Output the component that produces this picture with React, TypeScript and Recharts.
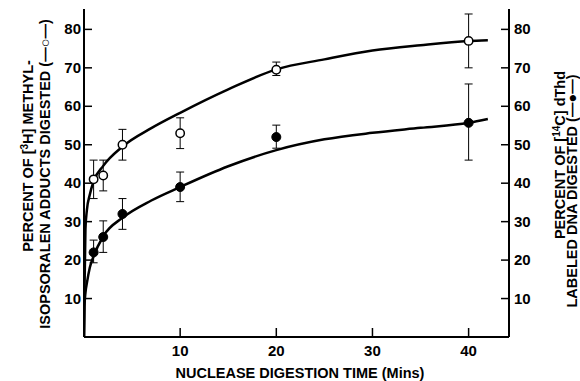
import { ComposedChart, Line, Scatter, XAxis, YAxis, ErrorBar } from 'recharts';

// measured points (open = 3H adducts, filled = 14C DNA)
const times = [1, 2, 4, 10, 20, 40];
const adductPct = [41, 42, 50, 53, 69.5, 77];
const adductErr = [[5, 5], [4, 4], [4, 4], [4, 4], [1.5, 2], [7, 7]];
const dnaPct = [22, 26, 32, 39, 52, 55.7];
const dnaErr = [[2.7, 3.2], [4, 4.2], [4, 4], [3.8, 3.9], [2.9, 3.1], [9.7, 10.1]];

// fitted curves
const fitTimes = [0, 0.05, 0.15, 0.3, 0.6, 1, 2, 4, 7, 10, 15, 20, 25, 30, 35, 40, 42];
const adductFit = [0, 12, 28, 33, 37, 40.5, 44.5, 49.5, 54.3, 58.3, 64.4, 69.6, 72.2, 74.5, 75.9, 77, 77.2];
const dnaFit = [0, 8, 11.5, 14, 18, 21, 26.2, 31, 35.5, 39, 44.4, 48.6, 51.4, 53.1, 54.4, 55.7, 56.7];

const xTicks = [10, 20, 30, 40];
const yTicks = [10, 20, 30, 40, 50, 60, 70, 80];

const adductPts = times.map((t, i) => ({ t, v: adductPct[i], e: adductErr[i] }));
const dnaPts = times.map((t, i) => ({ t, v: dnaPct[i], e: dnaErr[i] }));
const adductCurve = fitTimes.map((t, i) => ({ t, v: adductFit[i] }));
const dnaCurve = fitTimes.map((t, i) => ({ t, v: dnaFit[i] }));

const FONT = '"Liberation Sans", Arial, sans-serif';

const LeftTick = ({ x, y, payload }: any) => (
  <g>
    <line x1={x} x2={x + 8} y1={y} y2={y} stroke="#000" strokeWidth={1.5} />
    <text x={x - 3} y={y + 5} textAnchor="end" fontFamily={FONT} fontWeight="bold" fontSize={15} fill="#000">
      {payload.value}
    </text>
  </g>
);

const RightTick = ({ x, y, payload }: any) => (
  <g>
    <line x1={x - 8} x2={x} y1={y} y2={y} stroke="#000" strokeWidth={1.5} />
    <text x={x + 5} y={y + 5} textAnchor="start" fontFamily={FONT} fontWeight="bold" fontSize={15} fill="#000">
      {payload.value}
    </text>
  </g>
);

const BottomTick = ({ x, y, payload }: any) => (
  <g>
    <line x1={x} x2={x} y1={y - 9} y2={y} stroke="#000" strokeWidth={1.5} />
    <text x={x} y={y + 19} textAnchor="middle" fontFamily={FONT} fontWeight="bold" fontSize={15} fill="#000">
      {payload.value}
    </text>
  </g>
);

const OpenDot = ({ cx, cy }: any) => <circle cx={cx} cy={cy} r={4.2} fill="#fff" stroke="#000" strokeWidth={1.5} />;
const FilledDot = ({ cx, cy }: any) => <circle cx={cx} cy={cy} r={4.5} fill="#000" stroke="#000" strokeWidth={1} />;

const titleStyle = { fontFamily: FONT, fontWeight: 'bold' as const, fontSize: 14.5, fill: '#000' };

export default function App() {
  return (
    <div style={{ position: 'absolute', left: 0, top: 0, width: 580, height: 381, background: '#fff' }}>
      <ComposedChart width={580} height={381} margin={{ top: 9, right: 0, bottom: 0, left: 0 }}>
        <XAxis
          dataKey="t"
          type="number"
          domain={[0, 44.2]}
          ticks={xTicks}
          height={44}
          tickSize={0}
          tickMargin={0}
          tickLine={false}
          tick={<BottomTick />}
          axisLine={{ stroke: '#000', strokeWidth: 2 }}
          allowDataOverflow
        />
        <YAxis
          yAxisId="l"
          orientation="left"
          type="number"
          domain={[0, 85.3]}
          ticks={yTicks}
          width={84}
          tickSize={0}
          tickMargin={0}
          tickLine={false}
          tick={<LeftTick />}
          axisLine={{ stroke: '#000', strokeWidth: 2 }}
          allowDataOverflow
        />
        <YAxis
          yAxisId="r"
          orientation="right"
          type="number"
          domain={[0, 85.3]}
          ticks={yTicks}
          width={71}
          tickSize={0}
          tickMargin={0}
          tickLine={false}
          tick={<RightTick />}
          axisLine={{ stroke: '#000', strokeWidth: 2 }}
          allowDataOverflow
        />
        <Line yAxisId="l" data={adductCurve} dataKey="v" type="monotone" stroke="#000" strokeWidth={2.5} dot={false} isAnimationActive={false} />
        <Line yAxisId="r" data={dnaCurve} dataKey="v" type="monotone" stroke="#000" strokeWidth={2.5} dot={false} isAnimationActive={false} />
        <Scatter yAxisId="l" data={adductPts} dataKey="v" shape={<OpenDot />} isAnimationActive={false}>
          <ErrorBar dataKey="e" direction="y" width={4} stroke="#000" strokeWidth={1} isAnimationActive={false} />
        </Scatter>
        <Scatter yAxisId="r" data={dnaPts} dataKey="v" shape={<FilledDot />} isAnimationActive={false}>
          <ErrorBar dataKey="e" direction="y" width={4} stroke="#000" strokeWidth={1} isAnimationActive={false} />
        </Scatter>
      </ComposedChart>
      <svg width={580} height={381} style={{ position: 'absolute', left: 0, top: 0, pointerEvents: 'none' }}>
        <text {...titleStyle} x={300} y={378} textAnchor="middle">
          NUCLEASE DIGESTION TIME (Mins)
        </text>
        <text {...titleStyle} x={28} y={156} textAnchor="middle" dominantBaseline="central" transform="rotate(-90 28 156)">
          PERCENT OF [<tspan fontSize={10} dy={-4}>3</tspan><tspan dy={4}>H] METHYL-</tspan>
        </text>
        <text {...titleStyle} x={45} y={174} textAnchor="middle" dominantBaseline="central" transform="rotate(-90 45 174)">
          ISOPSORALEN ADDUCTS DIGESTED (—○—)
        </text>
        <text {...titleStyle} x={560} y={155} textAnchor="middle" dominantBaseline="central" transform="rotate(-90 560 155)">
          PERCENT OF [<tspan fontSize={10} dy={-4}>14</tspan><tspan dy={4}>C] dThd</tspan>
        </text>
        <text {...titleStyle} x={572} y={191} textAnchor="middle" dominantBaseline="central" transform="rotate(-90 572 191)">
          LABELED DNA DIGESTED (—●—)
        </text>
      </svg>
    </div>
  );
}
